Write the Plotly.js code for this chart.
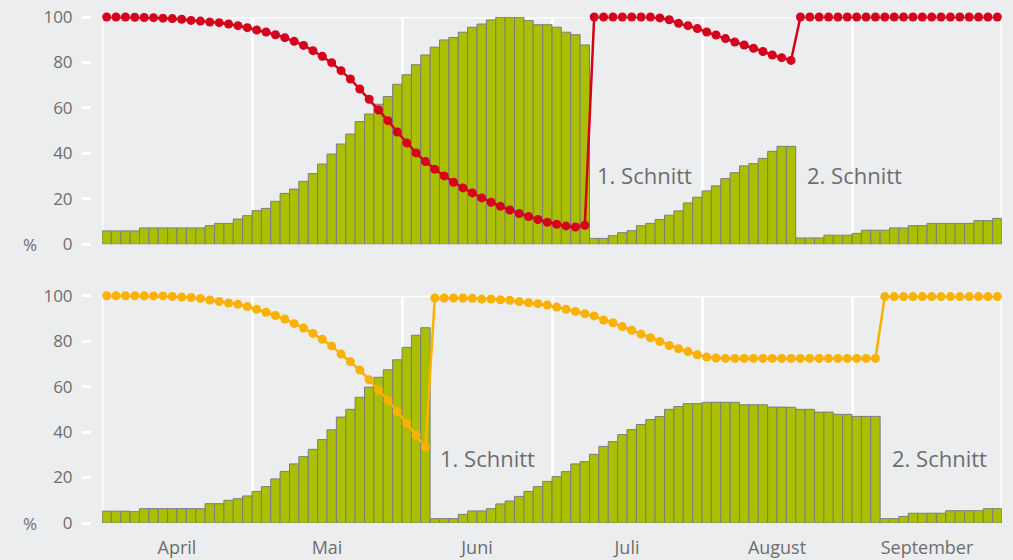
<!DOCTYPE html>
<html>
<head>
<meta charset="utf-8">
<script src="https://cdn.plot.ly/plotly-3.0.1.min.js"></script>
<style>html,body{margin:0;padding:0;background:#ecedee;}#chart{width:1013px;height:560px;}</style>
</head>
<body>
<div id="chart"></div>
<script>
// Month labels (placed at month centers, grid lines at month boundaries)
const months = ["April", "Mai", "Juni", "Juli", "August", "September"];
const monthCenters = [8, 24, 40, 56, 72, 88];
const monthBounds = [0, 16, 32, 48, 64, 80, 96];
const yTicks = [0, 20, 40, 60, 80, 100];

// Top panel: biomass growth bars (%) and red quality line (%)
const topBars = [
  5.9, 5.9, 5.9, 5.9, 7.2, 7.2, 7.2, 7.2, 7.2, 7.2, 7.2, 8.2, 9.2, 9.2,
  11.1, 12.6, 14.8, 15.8, 18.9, 22.4, 24.3, 27.7, 31.1, 35.3, 39.7, 44.1,
  48.5, 54, 57.3, 61.6, 65, 70.4, 74.6, 79, 83.3, 86.7, 89.9, 91, 93.3,
  95.5, 96.9, 98.7, 99.9, 99.9, 99.9, 98.4, 96.6, 96.6, 95.5, 93.3, 92.2, 87.7,
  2.6, 2.6, 3.8, 5.1, 6, 8.2, 9.2, 10.9, 12.8, 14.7, 18.2, 20.7, 23.5, 25.7,
  28.9, 31.5, 34.5, 35.5, 37.8, 40.9, 43.1, 43.1,
  2.8, 2.8, 2.8, 4, 4, 4, 4.8, 6.2, 6.2, 6.2, 7.2, 7.2, 8.2, 8.2,
  9.2, 9.2, 9.2, 9.2, 9.2, 10.4, 10.4, 11.4
];
const topLine = [
  100, 100, 100, 99.9, 99.8, 99.7, 99.5, 99.3, 99, 98.5, 98.2, 97.8, 97.5, 96.9,
  96.2, 95.3, 94.3, 93.4, 92.2, 90.9, 89.3, 87.5, 85.2, 82.7, 79.9, 76.4,
  72.7, 68.3, 63.8, 59.1, 54.4, 49.4, 44.6, 40.2, 36.4, 33, 30.1, 27.3, 24.8,
  22.6, 20.4, 18.5, 16.7, 15.1, 13.5, 12.2, 10.9, 9.7, 8.8, 8.1, 7.6, 8.4,
  100, 100, 100, 100, 100, 100, 100, 99.6, 98.8, 97.2, 96.2, 94.9, 93.4, 92.1,
  90.5, 89, 87.7, 86.2, 84.8, 83.3, 82.1, 80.9,
  100, 100, 100, 100, 100, 100, 100, 100, 100, 100, 100, 100, 100, 100,
  100, 100, 100, 100, 100, 100, 100, 100
];

// Bottom panel: biomass growth bars (%) and orange quality line (%)
const bottomBars = [
  5.2, 5.2, 5.2, 5, 6.3, 6.3, 6.3, 6.3, 6.3, 6.3, 6.3, 8.5, 8.5, 10,
  10.7, 11.9, 13.9, 16, 19.4, 22.7, 26, 29.2, 32.4, 36.7, 41, 46.6,
  50, 55.3, 59.8, 64.1, 67.4, 71.8, 77.3, 82.6, 85.9,
  1.9, 1.9, 1.9, 3.8, 5.3, 5.3, 6.3, 8.4, 9.7, 11.7, 13.9, 16, 18.3,
  20.4, 22.6, 26, 27, 30.2, 33.7, 35.8, 38.9, 41.1, 43.3, 45.5, 46.8,
  50, 51.2, 52.5, 52.5, 53.1, 53.1, 53.1, 53.1, 52, 52, 52, 51, 51, 50.9,
  50, 50, 48.8, 48.8, 47.8, 47.8, 46.9, 46.9, 46.9,
  1.9, 1.9, 2.9, 4.3, 4.3, 4.3, 4.3, 5.4, 5.4, 5.4, 5.4, 6.3, 6.3
];
const bottomLine = [
  100, 100, 100, 100, 100, 99.9, 99.9, 99.7, 99.4, 99.2, 98.8, 98.1, 97.5, 96.8,
  96.2, 95.2, 94, 92.7, 91.3, 89.7, 87.7, 85.8, 83.4, 80.8, 77.9, 74.3,
  71, 67.3, 63, 58.5, 54, 49, 43.8, 38.7, 33.4,
  99, 99, 99, 99, 98.9, 98.5, 98.5, 98.2, 98, 97.4, 96.9, 96.5, 95.9,
  95, 94, 93.1, 92.1, 91.1, 89.3, 88.1, 86.4, 84.8, 83.1, 81.5, 79.8,
  78.1, 76.7, 75.4, 74, 73, 72.6, 72.4, 72.4, 72.4, 72.4, 72.4, 72.4, 72.4,
  72.4, 72.4, 72.4, 72.4, 72.4, 72.4, 72.4, 72.4, 72.4, 72.4,
  99.6, 99.6, 99.6, 99.6, 99.6, 99.6, 99.6, 99.6, 99.6, 99.6, 99.6, 99.6, 99.6
];

const cutLabel1 = "1. Schnitt";
const cutLabel2 = "2. Schnitt";
const unitLabel = "%";

const pos = topBars.map((_, i) => i + 0.5);

const BG = "#ecedee";
const GREEN = "#aabf00";
const BAR_LINE = "#7d7d7d";
const RED = "#d5001c";
const ORANGE = "#fab100";
const TXT = "#6e6e6e";
const FONT = "Open Sans, Roboto, sans-serif";

const L = 91, R = 11, T = 17, B = 37;
const W = 1013, H = 560;
const plotW = W - L - R;
const xDom = [11 / plotW, 1];

function barTrace(vals, xa, ya) {
  return {
    type: "bar", x: pos, y: vals, width: 1, xaxis: xa, yaxis: ya,
    marker: {color: GREEN, line: {color: BAR_LINE, width: 1}},
    hoverinfo: "skip", showlegend: false
  };
}
function lineTrace(vals, color, xa, ya) {
  return {
    type: "scatter", mode: "lines+markers", x: pos, y: vals, xaxis: xa, yaxis: ya,
    line: {color: color, width: 2.5}, marker: {color: color, size: 9},
    cliponaxis: false, hoverinfo: "skip", showlegend: false
  };
}

const data = [
  barTrace(topBars, "x2", "y2"),
  lineTrace(topLine, RED, "x2", "y2"),
  barTrace(bottomBars, "x", "y"),
  lineTrace(bottomLine, ORANGE, "x", "y")
];

function xAxis(anchor, labels) {
  return {
    domain: xDom, anchor: anchor, range: [0, 96], fixedrange: true,
    tickmode: "array", tickvals: monthCenters, ticktext: months,
    showticklabels: labels, ticks: "", showgrid: false, zeroline: false, showline: false,
    ticklabelstandoff: 12,
    tickfont: {family: FONT, size: 18, color: TXT},
    minor: {tickmode: "array", tickvals: monthBounds, showgrid: true, gridcolor: "#ffffff", gridwidth: 3, ticks: ""}
  };
}
function yAxis(domain) {
  return {
    domain: domain, anchor: "free", position: 0, range: [0, 100], fixedrange: true,
    tickmode: "array", tickvals: yTicks, ticks: "outside", ticklen: 9, tickwidth: 3,
    tickcolor: "#ffffff", showgrid: false, zeroline: false, showline: false,
    ticklabelstandoff: 6,
    tickfont: {family: FONT, size: 17, color: TXT}
  };
}

const plotH = H - T - B;
const yTopDom = [(523 - 244.3) / plotH, 1];
const yBotDom = [0, (523 - 295.7) / plotH];

const edgeLines = [];
["y", "y2"].forEach(ya => {
  const xa = ya === "y" ? "x" : "x2";
  [0, 96].forEach(xv => {
    edgeLines.push({type: "line", xref: xa, yref: ya + " domain", x0: xv, x1: xv, y0: 0, y1: 1,
      line: {color: "#ffffff", width: 3}, layer: "below"});
  });
  edgeLines.push({type: "line", xref: "paper", yref: ya, x0: xDom[0], x1: 1, y0: 100, y1: 100,
    line: {color: "#ffffff", width: 3}, layer: "below"});
});

const annFont = {family: FONT, size: 22, color: TXT};
const layout = {
  width: W, height: H,
  margin: {l: L, r: R, t: T, b: B},
  paper_bgcolor: BG, plot_bgcolor: BG,
  barmode: "overlay", bargap: 0,
  xaxis: xAxis("y", true),
  xaxis2: Object.assign(xAxis("y2", false), {matches: "x"}),
  yaxis: yAxis(yBotDom),
  yaxis2: yAxis(yTopDom),
  shapes: edgeLines,
  annotations: [
    {text: cutLabel1, xref: "x2", yref: "y2", x: 52.6, y: 30.5, xanchor: "left", yanchor: "middle", showarrow: false, font: annFont},
    {text: cutLabel2, xref: "x2", yref: "y2", x: 75.0, y: 30.5, xanchor: "left", yanchor: "middle", showarrow: false, font: annFont},
    {text: cutLabel1, xref: "x", yref: "y", x: 35.8, y: 28.6, xanchor: "left", yanchor: "middle", showarrow: false, font: annFont},
    {text: cutLabel2, xref: "x", yref: "y", x: 84.1, y: 28.6, xanchor: "left", yanchor: "middle", showarrow: false, font: annFont},
    {text: unitLabel, xref: "paper", yref: "y2", x: (30 - L) / plotW, y: 0, xanchor: "center", yanchor: "middle", showarrow: false, font: {family: FONT, size: 17, color: TXT}},
    {text: unitLabel, xref: "paper", yref: "y", x: (30 - L) / plotW, y: 0, xanchor: "center", yanchor: "middle", showarrow: false, font: {family: FONT, size: 17, color: TXT}}
  ]
};

Plotly.newPlot("chart", data, layout, {displayModeBar: false, staticPlot: true});
</script>
</body>
</html>
